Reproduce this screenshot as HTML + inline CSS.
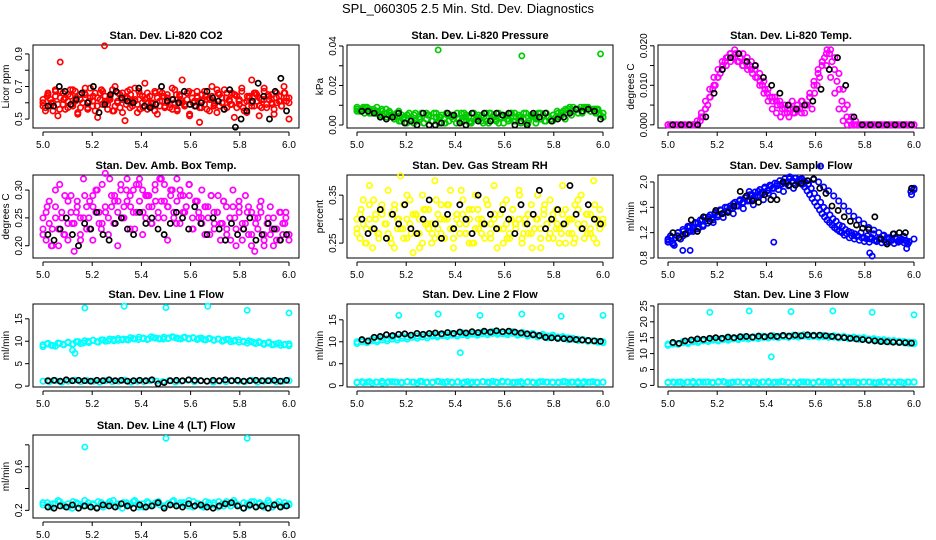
<!DOCTYPE html>
<html><head><meta charset="utf-8"><style>
body{margin:0;background:#fff;}
svg{display:block;font-family:"Liberation Sans",sans-serif;}
</style></head><body>
<svg id="chart" width="936" height="540" viewBox="0 0 936 540" xmlns="http://www.w3.org/2000/svg">
<rect width="936" height="540" fill="#fff"/>
<text x="468" y="13" font-size="13" text-anchor="middle">SPL_060305  2.5 Min. Std. Dev. Diagnostics</text>
</svg>
<script>
// ---------- data ----------
const xTicks = [5.0, 5.2, 5.4, 5.6, 5.8, 6.0];
const xTickLabels = ["5.0", "5.2", "5.4", "5.6", "5.8", "6.0"];

const co2Red = [0.62,0.55,0.66,0.58,0.60,0.64,0.52,0.67,0.59,0.63,0.57,0.68,0.68,0.61,0.54,0.65,0.60,0.69,0.56,0.63,0.58,0.66,0.51,0.62,0.67,0.61,0.59,0.64,0.55,0.70,0.61,0.57,0.66,0.49,0.63,0.68,0.58,0.62,0.54,0.65,0.60,0.72,0.56,0.64,0.59,0.67,0.53,0.61,0.66,0.58,0.63,0.57,0.69,0.60,0.55,0.65,0.74,0.59,0.62,0.52,0.66,0.58,0.64,0.48,0.61,0.67,0.56,0.63,0.70,0.59,0.54,0.65,0.60,0.68,0.57,0.62,0.66,0.51,0.64,0.59,0.67,0.55,0.61,0.63,0.74,0.58,0.65,0.52,0.62,0.69,0.57,0.64,0.60,0.53,0.66,0.61,0.58,0.70,0.63,0.50];
const co2Red2 = [0.58,0.64,0.60,0.67,0.56,0.62,0.65,0.59,0.63,0.57,0.66,0.61,0.64,0.58,0.68,0.60,0.63,0.55,0.66,0.62,0.59,0.65,0.61,0.67,0.57,0.63,0.60,0.66,0.58,0.64,0.61,0.56,0.65,0.62,0.59,0.67,0.60,0.63,0.57,0.64,0.62,0.58,0.66,0.60,0.63,0.59,0.65,0.61,0.57,0.64,0.60,0.66,0.58,0.62,0.65,0.59,0.63,0.61,0.66,0.60];
const co2Red3 = [0.60,0.57,0.65,0.62,0.55,0.68,0.59,0.63,0.66,0.56,0.61,0.64,0.58,0.67,0.53,0.62,0.60,0.65,0.57,0.69,0.61,0.55,0.63,0.66,0.59,0.64,0.56,0.62,0.68,0.58,0.60,0.65,0.54,0.63,0.67,0.57,0.61,0.69,0.59,0.56,0.64,0.62,0.66,0.58,0.60,0.55,0.63,0.67,0.61,0.57,0.65,0.59,0.62,0.68,0.56,0.64,0.60,0.58,0.66,0.53,0.63,0.61,0.67,0.57,0.65,0.59,0.62,0.55,0.64,0.60,0.68,0.58,0.63,0.56,0.66,0.61,0.59,0.65,0.57,0.62,0.69,0.60,0.54,0.64,0.58,0.66,0.61,0.63,0.57,0.67,0.59,0.62,0.65,0.56,0.60,0.64,0.58,0.66,0.61,0.63];
const co2Black = [0.58,0.58,0.70,0.67,0.59,0.62,0.66,0.60,0.70,0.54,0.59,0.65,0.67,0.63,0.61,0.60,0.69,0.58,0.57,0.59,0.70,0.61,0.62,0.60,0.67,0.59,0.58,0.60,0.67,0.63,0.61,0.56,0.68,0.45,0.50,0.55,0.61,0.72,0.64,0.50,0.67,0.75,0.55];
const co2OutX = [5.07, 5.25];
const co2OutY = [0.85, 0.95];

const presGreen = [0.008,0.007,0.009,0.006,0.008,0.007,0.005,0.008,0.006,0.004,0.007,0.003,0.005,0.002,0.006,0.003,0.001,0.005,0.002,0.006,0.004,0.001,0.005,0.003,0.006,0.002,0.004,0.001,0.006,0.003,0.005,0.002,0.006,0.004,0.001,0.005,0.003,0.006,0.002,0.004,0.006,0.001,0.005,0.003,0.006,0.002,0.004,0.005,0.007,0.006,0.008,0.009,0.007,0.008,0.006,0.009,0.007,0.008,0.006,0.004];
const presGreen2 = [0.007,0.009,0.008,0.006,0.007,0.005,0.004,0.002,0.005,0.001,0.003,0.006,0.002,0.004,0.001,0.005,0.003,0.006,0.002,0.004,0.001,0.006,0.003,0.005,0.002,0.006,0.004,0.001,0.005,0.003,0.006,0.002,0.004,0.003,0.005,0.008,0.009,0.007,0.008,0.006];
const presGreen3 = [0.009,0.007,0.008,0.006,0.009,0.008,0.006,0.007,0.009,0.005,0.008,0.006,0.004,0.007,0.005,0.003,0.006,0.002,0.005,0.004,0.001,0.006,0.003,0.005,0.002,0.004,0.006,0.001,0.003,0.005,0.002,0.006,0.004,0.001,0.005,0.003,0.006,0.002,0.004,0.005,0.001,0.003,0.006,0.002,0.005,0.004,0.001,0.006,0.003,0.005,0.002,0.004,0.006,0.001,0.003,0.005,0.002,0.006,0.004,0.001,0.005,0.003,0.006,0.002,0.004,0.005,0.001,0.003,0.006,0.002,0.005,0.004,0.001,0.006,0.003,0.005,0.002,0.004,0.003,0.005,0.004,0.006,0.005,0.007,0.006,0.008,0.007,0.009,0.008,0.006,0.009,0.007,0.008,0.009,0.007,0.008,0.006,0.008,0.005,0.004];
const presBlack = [0.007,0.007,0.006,0.004,0.003,0.004,0.006,0.001,0.002,0.000,0.006,0.000,0.000,0.001,0.006,0.005,0.001,0.000,0.006,0.002,0.006,0.002,0.006,0.005,0.006,0.000,0.002,0.000,0.006,0.004,0.006,0.002,0.003,0.004,0.006,0.008,0.007,0.008,0.007,0.003];
const presOutX = [5.33, 5.67, 5.99];
const presOutY = [0.038, 0.035, 0.036];

const tempMag = [0,0,0,0,0,0,0,0.001,0.003,0.006,0.009,0.012,0.014,0.016,0.017,0.018,0.019,0.018,0.018,0.017,0.016,0.015,0.013,0.011,0.009,0.007,0.006,0.005,0.004,0.005,0.004,0.005,0.006,0.005,0.007,0.010,0.013,0.016,0.018,0.019,0.017,0.013,0.009,0.005,0.002,0.001,0,0,0,0,0,0,0,0,0,0,0,0,0,0];
const tempMag2 = [0,0,0,0,0,0,0,0,0.002,0.004,0.007,0.010,0.012,0.014,0.015,0.016,0.017,0.016,0.015,0.015,0.014,0.012,0.010,0.008,0.006,0.004,0.003,0.002,0.003,0.002,0.003,0.004,0.003,0.005,0.008,0.011,0.014,0.016,0.015,0.012,0.008,0.004,0.001,0,0,0,0,0,0,0,0,0,0,0,0,0,0,0,0,0];
const tempMag3 = [0,0,0,0,0,0,0,0,0,0,0,0,0,0.001,0.002,0.004,0.005,0.007,0.009,0.010,0.012,0.013,0.015,0.016,0.017,0.018,0.017,0.018,0.016,0.017,0.015,0.016,0.014,0.015,0.013,0.014,0.012,0.011,0.010,0.009,0.008,0.007,0.006,0.007,0.005,0.006,0.004,0.005,0.003,0.004,0.006,0.003,0.005,0.004,0.006,0.003,0.005,0.007,0.004,0.008,0.010,0.012,0.015,0.017,0.019,0.018,0.016,0.014,0.011,0.009,0.006,0.004,0.002,0.001,0,0,0,0,0,0,0,0,0,0,0,0,0,0,0,0,0,0,0,0,0,0,0,0,0,0];
const tempBlack = [0,0,0,0,0.002,0.008,0.014,0.017,0.018,0.016,0.015,0.012,0.010,0.008,0.005,0.004,0.005,0.006,0.009,0.014,0.017,0.010,0.002,0,0,0,0,0,0,0];

const ambMag = [0.25,0.21,0.28,0.23,0.30,0.20,0.26,0.22,0.24,0.29,0.19,0.27,0.25,0.32,0.23,0.28,0.21,0.30,0.26,0.24,0.33,0.22,0.27,0.29,0.20,0.31,0.25,0.28,0.23,0.30,0.26,0.32,0.22,0.29,0.27,0.24,0.31,0.25,0.32,0.28,0.21,0.30,0.26,0.32,0.24,0.29,0.27,0.31,0.23,0.28,0.25,0.30,0.22,0.27,0.29,0.24,0.26,0.21,0.28,0.23,0.25,0.30,0.20,0.27,0.24,0.29,0.22,0.26,0.19,0.25,0.28,0.21,0.24,0.27,0.20,0.23,0.26,0.22,0.25,0.21];
const ambMag2 = [0.23,0.27,0.20,0.25,0.31,0.22,0.28,0.24,0.26,0.21,0.29,0.25,0.27,0.30,0.23,0.26,0.32,0.24,0.28,0.25,0.30,0.27,0.23,0.31,0.26,0.29,0.24,0.28,0.32,0.25,0.27,0.30,0.24,0.29,0.26,0.31,0.23,0.28,0.25,0.27,0.22,0.26,0.29,0.24,0.27,0.21,0.25,0.28,0.23,0.26,0.20,0.24,0.27,0.22,0.25,0.23,0.21,0.26,0.24,0.22];
const ambMag3 = [0.22,0.26,0.24,0.20,0.27,0.23,0.25,0.29,0.21,0.26,0.24,0.28,0.22,0.25,0.27,0.23,0.29,0.26,0.24,0.31,0.27,0.25,0.29,0.28,0.26,0.30,0.27,0.32,0.29,0.26,0.31,0.28,0.30,0.25,0.29,0.27,0.30,0.26,0.28,0.31,0.27,0.29,0.25,0.28,0.30,0.26,0.27,0.29,0.25,0.28,0.26,0.24,0.27,0.25,0.29,0.23,0.26,0.24,0.28,0.22,0.25,0.27,0.23,0.26,0.21,0.24,0.27,0.22,0.25,0.23,0.26,0.20,0.24,0.22,0.25,0.23,0.21,0.24,0.26,0.22];
const ambBlack = [0.22,0.21,0.23,0.25,0.22,0.20,0.24,0.23,0.26,0.22,0.21,0.24,0.25,0.23,0.22,0.26,0.24,0.25,0.23,0.22,0.24,0.26,0.25,0.23,0.27,0.24,0.22,0.25,0.23,0.21,0.24,0.22,0.23,0.25,0.21,0.22,0.24,0.23,0.21,0.22];

const rhYellow = [0.30,0.26,0.34,0.28,0.37,0.24,0.31,0.27,0.33,0.29,0.36,0.25,0.32,0.28,0.39,0.26,0.30,0.34,0.23,0.31,0.27,0.35,0.29,0.32,0.25,0.38,0.28,0.33,0.26,0.30,0.36,0.24,0.31,0.29,0.34,0.27,0.32,0.25,0.35,0.28,0.30,0.26,0.33,0.29,0.37,0.24,0.31,0.28,0.34,0.26,0.32,0.29,0.36,0.25,0.30,0.27,0.33,0.28,0.35,0.24,0.31,0.29,0.34,0.26,0.32,0.28,0.37,0.25,0.30,0.27,0.33,0.29,0.35,0.26,0.31,0.28,0.38,0.25,0.32,0.29];
const rhYellow2 = [0.28,0.32,0.25,0.30,0.34,0.27,0.31,0.29,0.26,0.33,0.30,0.28,0.35,0.27,0.31,0.24,0.32,0.29,0.27,0.34,0.30,0.26,0.33,0.28,0.31,0.36,0.27,0.30,0.25,0.32,0.29,0.34,0.27,0.31,0.28,0.33,0.26,0.30,0.29,0.35,0.27,0.31,0.24,0.30,0.28,0.33,0.26,0.31,0.29,0.27,0.32,0.30,0.25,0.34,0.28,0.31,0.27,0.33,0.29,0.30];
const rhYellow3 = [0.27,0.31,0.29,0.25,0.33,0.28,0.30,0.26,0.32,0.29,0.27,0.31,0.24,0.30,0.28,0.33,0.26,0.29,0.31,0.27,0.30,0.25,0.32,0.28,0.29,0.26,0.31,0.27,0.30,0.33,0.28,0.26,0.30,0.27,0.31,0.29,0.25,0.32,0.28,0.30,0.27,0.29,0.33,0.26,0.30,0.28,0.31,0.25,0.29,0.27,0.32,0.28,0.30,0.26,0.29,0.31,0.27,0.28,0.30,0.26,0.32,0.29,0.27,0.30,0.28,0.25,0.31,0.29,0.27,0.30,0.26,0.32,0.28,0.29,0.27,0.31,0.26,0.30,0.28,0.29];
const rhBlack = [0.30,0.27,0.28,0.32,0.26,0.31,0.29,0.33,0.28,0.27,0.30,0.34,0.29,0.26,0.31,0.28,0.33,0.30,0.27,0.35,0.29,0.31,0.28,0.32,0.30,0.27,0.33,0.29,0.31,0.36,0.28,0.30,0.32,0.29,0.37,0.31,0.28,0.33,0.30,0.29];

const flowBlue = [1.05,1.12,1.00,1.15,1.10,1.22,1.18,1.30,1.25,1.35,1.28,1.40,1.38,1.45,1.42,1.50,1.48,1.55,1.52,1.60,1.58,1.66,1.62,1.70,1.68,1.75,1.72,1.80,1.78,1.85,1.83,1.90,1.87,1.93,1.90,1.97,1.95,2.00,1.98,2.05,2.02,2.06,2.03,2.05,2.00,1.96,1.90,1.82,1.75,1.68,1.60,1.55,1.48,1.42,1.38,1.32,1.30,1.25,1.22,1.20,1.18,1.15,1.20,1.12,1.15,1.10,1.18,1.08,1.12,1.15,1.05,1.10,1.08,1.12,1.05,1.10,1.08,1.02,1.85,1.90];
const flowBlue2 = [1.10,1.02,1.20,1.15,1.28,1.22,1.35,1.30,1.42,1.36,1.48,1.44,1.55,1.50,1.62,1.58,1.70,1.64,1.76,1.72,1.82,1.78,1.88,1.85,1.94,1.90,1.98,2.02,1.97,2.04,2.00,1.92,1.86,1.78,1.70,1.62,1.54,1.46,1.40,1.34,1.28,1.24,1.20,1.16,1.12,1.18,1.08,1.14,1.06,1.10];
const flowBlue3 = [1.08,1.15,1.04,1.12,1.20,1.10,1.25,1.18,1.30,1.22,1.28,1.36,1.26,1.40,1.32,1.44,1.35,1.48,1.40,1.52,1.45,1.56,1.50,1.60,1.54,1.62,1.58,1.68,1.62,1.72,1.66,1.75,1.70,1.80,1.74,1.84,1.78,1.88,1.82,1.92,1.86,1.95,1.90,1.98,1.94,2.02,1.97,2.05,2.00,2.08,2.02,2.06,2.00,2.04,1.96,1.92,1.86,1.80,1.74,1.68,1.62,1.56,1.50,1.45,1.40,1.36,1.32,1.28,1.25,1.22,1.20,1.16,1.18,1.12,1.15,1.10,1.14,1.08,1.12,1.06,1.10,1.05,1.12,1.08,1.06,1.10,1.04,1.08,1.12,1.05,1.09,1.03,1.10,1.06,1.08,1.04,1.07,1.05,1.80,1.88];
const flowBlack = [1.20,1.12,1.18,1.40,1.22,1.45,1.38,1.55,1.50,1.52,1.62,1.85,1.78,1.70,1.68,1.80,1.72,1.72,2.00,1.95,1.95,1.98,2.02,2.05,1.90,1.82,1.62,1.55,1.45,1.38,1.32,1.27,1.25,1.45,1.10,1.02,1.18,1.20,1.20,1.90];
const flowOutX = [5.06, 5.09, 5.33, 5.43, 5.62, 5.82, 5.83, 5.97];
const flowOutY = [0.92, 0.92, 1.85, 1.05, 2.25, 0.88, 0.83, 0.95];

const l1Up = [9.2,9.5,9.0,9.6,9.3,9.8,9.4,9.9,9.6,10.0,10.2,9.8,10.3,10.1,10.4,10.2,10.5,10.3,10.6,10.4,10.7,10.5,10.8,10.6,10.5,10.7,10.9,10.6,10.8,10.5,10.7,10.6,10.4,10.6,10.3,10.5,10.2,10.4,10.0,10.3,9.9,10.1,9.7,9.9,9.5,9.8,9.3,9.6,9.2,9.4];
const l1Up2 = [8.8,9.4,9.1,8.9,9.5,9.2,9.7,9.3,9.9,9.5,10.1,9.7,10.2,9.9,10.3,10.0,10.5,10.1,10.6,10.3,10.4,10.8,10.5,10.9,10.6,10.4,11.0,10.7,10.5,10.9,10.6,11.0,10.7,10.5,10.9,10.6,10.8,10.4,10.7,10.3,10.6,10.2,10.5,10.0,10.4,9.9,10.2,9.8,10.0,9.6,9.9,9.5,9.7,9.3,9.6,9.2,9.4,9.1,9.3,9.0];
const l1Lo = [1.1,1.0,1.2,0.9,1.1,1.3,1.0,1.2,1.1,0.9,1.2,1.0,1.1,1.3,0.9,1.1,1.0,1.2,1.1,1.0,1.2,0.9,1.1,1.3,1.0,1.2,1.1,0.9,1.1,1.0,1.2,1.1,1.0,1.3,0.9,1.1,1.2,1.0,1.1,1.2];
const l1Black = [1.2,1.3,1.1,1.4,1.2,1.3,1.2,1.1,1.3,1.2,1.4,1.2,1.3,1.1,1.2,1.3,1.2,1.4,0.5,0.8,1.2,1.3,1.2,1.4,1.3,1.2,1.1,1.3,1.2,1.4,1.2,1.3,1.1,1.2,1.3,1.2,1.2,1.3,1.1,1.3];
const l1OutX = [5.12, 5.13, 5.17, 5.33, 5.50, 5.67, 5.83, 6.00];
const l1OutY = [8.0, 7.3, 17.4, 17.8, 17.5, 17.8, 16.9, 16.3];

const l2Up = [10.0,10.3,10.1,10.6,10.4,10.9,10.7,11.1,10.9,11.3,11.1,11.5,11.3,11.6,11.4,11.7,11.5,11.8,11.6,11.9,11.7,12.0,11.8,12.1,11.9,12.2,12.0,12.3,12.1,12.2,12.0,12.3,11.9,12.1,11.7,11.9,11.5,11.7,11.3,11.5,11.1,11.2,10.9,10.8,10.6,10.5,10.3,10.2,10.1,10.0];
const l2Up2 = [9.6,10.0,9.8,10.2,10.0,10.4,10.2,10.6,10.4,10.8,10.6,11.0,10.8,11.1,10.9,11.3,11.1,11.4,11.2,11.5,11.3,11.6,11.4,11.7,11.5,11.8,11.6,11.9,11.7,11.8,11.6,11.9,11.5,11.7,11.3,11.5,11.1,11.3,10.9,11.1,10.7,10.9,10.5,10.6,10.3,10.4,10.1,10.2,9.9,9.8];
const l2Lo = [0.8,0.7,0.9,0.8,0.6,0.9,0.8,0.7,0.9,0.8,1.0,0.7,0.8,0.9,0.7,0.8,0.9,0.8,0.6,0.8,0.9,0.7,0.8,1.0,0.8,0.7,0.9,0.8,0.7,0.9,0.8,0.8,0.7,0.9,0.8,0.6,0.9,0.8,0.7,0.8];
const l2Lo2 = [0.7,0.9,0.8,0.6,0.8,1.0,0.7,0.9,0.8,0.7,0.9,0.8,0.6,0.9,0.8,0.7,1.0,0.8,0.9,0.7,0.8,0.6,0.9,0.8,0.7,0.9,0.8,1.0,0.7,0.8,0.9,0.7,0.8,0.6,0.9,0.8,0.7,0.9,0.8,0.7,0.8,0.9,0.7,0.8,0.9,0.6,0.8,0.9,0.7,0.8];
const l2Black = [10.5,10.2,11.0,11.2,11.6,11.4,11.7,11.8,11.5,11.9,11.7,11.9,12.0,11.8,12.1,11.9,12.2,12.0,12.3,12.1,12.4,12.2,12.5,12.3,12.4,12.2,12.0,11.8,11.6,11.4,11.0,10.9,10.8,10.7,10.6,10.5,10.4,10.3,10.2,10.1];
const l2OutX = [5.17, 5.33, 5.42, 5.50, 5.67, 5.83, 6.00];
const l2OutY = [16.0, 16.3, 7.5, 16.0, 16.3, 15.8, 16.0];

const l3Up = [13.0,13.4,13.2,13.8,13.6,14.1,13.9,14.4,14.2,14.6,14.4,14.8,14.6,15.0,14.8,15.2,15.0,15.3,15.1,15.5,15.3,15.6,15.4,15.7,15.5,15.8,15.6,15.9,15.7,15.8,15.6,15.7,15.5,15.6,15.3,15.4,15.1,15.2,14.9,15.0,14.6,14.7,14.4,14.4,14.1,14.1,13.9,13.8,13.6,13.5];
const l3Up2 = [12.6,13.0,12.9,13.4,13.2,13.7,13.5,14.0,13.8,14.2,14.0,14.4,14.2,14.6,14.4,14.8,14.6,14.9,14.7,15.1,14.9,15.2,15.0,15.3,15.1,15.4,15.2,15.5,15.3,15.4,15.2,15.3,15.1,15.2,14.9,15.0,14.7,14.8,14.5,14.6,14.2,14.3,14.0,14.0,13.7,13.7,13.5,13.4,13.2,13.1];
const l3Lo = [1.0,0.9,1.1,1.0,0.8,1.1,1.0,0.9,1.2,1.0,0.9,1.1,1.0,0.8,1.0,1.1,0.9,1.0,1.2,1.0,0.9,1.1,1.0,0.8,1.0,1.1,0.9,1.0,1.1,1.0,0.9,1.1,1.0,0.8,1.0,1.1,0.9,1.0,1.1,1.0];
const l3Lo2 = [0.9,1.1,1.0,0.8,1.0,1.2,0.9,1.0,1.1,0.9,1.0,1.2,0.8,1.0,1.1,0.9,1.0,1.1,0.8,1.0,1.2,0.9,1.0,1.1,0.9,1.0,0.8,1.1,1.0,0.9,1.2,1.0,0.9,1.1,1.0,0.8,1.0,1.1,0.9,1.0,1.1,0.9,1.0,1.2,0.9,1.0,1.1,0.8,1.0,1.1];
const l3Black = [13.5,13.2,14.0,14.3,14.6,14.5,14.8,15.0,14.8,15.2,15.0,15.3,15.4,15.2,15.5,15.3,15.6,15.4,15.7,15.5,15.8,15.6,15.9,15.7,15.8,15.6,15.4,15.2,15.0,14.8,14.6,14.4,14.2,14.0,13.8,13.7,13.6,13.5,13.4,13.3];
const l3OutX = [5.17, 5.33, 5.42, 5.50, 5.67, 5.83, 6.00];
const l3OutY = [23.0, 23.4, 9.0, 23.2, 23.4, 23.0, 22.2];

const l4Cyan = [0.25,0.27,0.23,0.26,0.28,0.24,0.26,0.22,0.27,0.25,0.29,0.24,0.26,0.23,0.27,0.25,0.28,0.24,0.26,0.22,0.27,0.25,0.29,0.23,0.26,0.28,0.24,0.27,0.25,0.23,0.26,0.28,0.24,0.27,0.25,0.29,0.23,0.26,0.24,0.28,0.25,0.27,0.23,0.26,0.28,0.24,0.27,0.25,0.22,0.26,0.28,0.24,0.27,0.25,0.29,0.23,0.26,0.24,0.27,0.25];
const l4Cyan2 = [0.27,0.24,0.26,0.29,0.25,0.23,0.28,0.26,0.24,0.27,0.25,0.28,0.23,0.26,0.29,0.24,0.27,0.25,0.28,0.26,0.23,0.27,0.25,0.28,0.24,0.26,0.29,0.25,0.27,0.24,0.28,0.26,0.23,0.27,0.25,0.28,0.24,0.26,0.29,0.25,0.27,0.24,0.28,0.26,0.23,0.27,0.25,0.28,0.24,0.26];
const l4Black = [0.23,0.22,0.24,0.23,0.25,0.22,0.24,0.23,0.22,0.25,0.24,0.23,0.26,0.24,0.22,0.25,0.23,0.24,0.27,0.22,0.25,0.24,0.23,0.26,0.24,0.25,0.23,0.22,0.24,0.26,0.27,0.24,0.22,0.25,0.23,0.24,0.22,0.25,0.23,0.24];
const l4OutX = [5.17, 5.50, 5.83];
const l4OutY = [0.78, 0.86, 0.86];

// ---------- layout ----------
const NS = "http://www.w3.org/2000/svg";
const svg = document.getElementById("chart");
const colLeft = [33, 347, 658];
const rowTop = [45, 175, 304, 435];
const W = 266, H = 83;

function mk(tag, attrs, parent) {
  const e = document.createElementNS(NS, tag);
  for (const k in attrs) e.setAttribute(k, attrs[k]);
  parent.appendChild(e);
  return e;
}

const panels = [
  {name:"co2", title:"Stan. Dev. Li-820 CO2", ylab:"Licor ppm", col:0,row:0, ymin:0.445, ymax:0.955,
   ticks:[0.5,0.6,0.7,0.8,0.9], tlab:["0.5","","0.7","","0.9"],
   series:[[co2Red,"#ff0000"],[co2Red2,"#ff0000"],[co2Red3,"#ff0000"]], black:co2Black, outX:co2OutX, outY:co2OutY, outC:"#ff0000"},
  {name:"pressure", title:"Stan. Dev. Li-820 Pressure", ylab:"kPa", col:1,row:0, ymin:-0.0015, ymax:0.0405,
   ticks:[0,0.01,0.02,0.03,0.04], tlab:["0.00","","0.02","","0.04"],
   series:[[presGreen,"#00cc00"],[presGreen2,"#00cc00"],[presGreen3,"#00cc00"]], black:presBlack, outX:presOutX, outY:presOutY, outC:"#00cc00"},
  {name:"temp", title:"Stan. Dev. Li-820 Temp.", ylab:"degrees C", col:2,row:0, ymin:-0.0008, ymax:0.0202,
   ticks:[0,0.005,0.01,0.015,0.02], tlab:["0.000","","0.010","","0.020"],
   series:[[tempMag,"#ff00ff"],[tempMag2,"#ff00ff"],[tempMag3,"#ff00ff"]], black:tempBlack, outX:[], outY:[], outC:"#ff00ff"},
  {name:"amb-box-temp", title:"Stan. Dev. Amb. Box Temp.", ylab:"degrees C", col:0,row:1, ymin:0.178, ymax:0.327,
   ticks:[0.2,0.25,0.3], tlab:["0.20","0.25","0.30"],
   series:[[ambMag,"#ff00ff"],[ambMag2,"#ff00ff"],[ambMag3,"#ff00ff"]], black:ambBlack, outX:[], outY:[], outC:"#ff00ff"},
  {name:"gas-rh", title:"Stan. Dev. Gas Stream RH", ylab:"percent", col:1,row:1, ymin:0.219, ymax:0.392,
   ticks:[0.25,0.3,0.35], tlab:["0.25","","0.35"],
   series:[[rhYellow,"#ffff00"],[rhYellow2,"#ffff00"],[rhYellow3,"#ffff00"]], black:rhBlack, outX:[], outY:[], outC:"#ffff00"},
  {name:"sample-flow", title:"Stan. Dev. Sample Flow", ylab:"ml/min", col:2,row:1, ymin:0.8, ymax:2.11,
   ticks:[0.8,1.2,1.6,2.0], tlab:["0.8","1.2","1.6","2.0"],
   series:[[flowBlue,"#0000ff"],[flowBlue2,"#0000ff"],[flowBlue3,"#0000ff"]], black:flowBlack, outX:flowOutX, outY:flowOutY, outC:"#0000ff"},
  {name:"line1-flow", title:"Stan. Dev. Line 1 Flow", ylab:"ml/min", col:0,row:2, ymin:-0.2, ymax:18.3,
   ticks:[0,5,10,15], tlab:["0","5","10","15"],
   series:[[l1Up,"#00ffff"],[l1Up2,"#00ffff"],[l1Lo,"#00ffff"]], black:l1Black, outX:l1OutX, outY:l1OutY, outC:"#00ffff"},
  {name:"line2-flow", title:"Stan. Dev. Line 2 Flow", ylab:"ml/min", col:1,row:2, ymin:-0.3, ymax:18.6,
   ticks:[0,5,10,15], tlab:["0","5","10","15"],
   series:[[l2Up,"#00ffff"],[l2Up2,"#00ffff"],[l2Lo,"#00ffff"],[l2Lo2,"#00ffff"]], black:l2Black, outX:l2OutX, outY:l2OutY, outC:"#00ffff"},
  {name:"line3-flow", title:"Stan. Dev. Line 3 Flow", ylab:"ml/min", col:2,row:2, ymin:-0.5, ymax:25.6,
   ticks:[0,5,10,15,20,25], tlab:["0","5","10","15","20","25"],
   series:[[l3Up,"#00ffff"],[l3Up2,"#00ffff"],[l3Lo,"#00ffff"],[l3Lo2,"#00ffff"]], black:l3Black, outX:l3OutX, outY:l3OutY, outC:"#00ffff"},
  {name:"line4-flow", title:"Stan. Dev. Line 4 (LT) Flow", ylab:"ml/min", col:0,row:3, ymin:0.13, ymax:0.89,
   ticks:[0.2,0.4,0.6,0.8], tlab:["0.2","","0.6",""],
   series:[[l4Cyan,"#00ffff"],[l4Cyan2,"#00ffff"]], black:l4Black, outX:l4OutX, outY:l4OutY, outC:"#00ffff"}
];

panels.forEach(p => {
  const L = colLeft[p.col], T = rowTop[p.row];
  const g = mk("g", {}, svg);
  
  
  const xs = v => L + 10 + (v - 5.0) * (W - 20);
  const ys = v => T + H - (v - p.ymin) / (p.ymax - p.ymin) * H;

  const box = mk("rect", {x:L, y:T, width:W, height:H, fill:"none", stroke:"#000", "stroke-width":1}, g);
  
  

  const title = mk("text", {x:L + W/2, y:T - 6, "font-size":11, "font-weight":"bold", "text-anchor":"middle"}, g);
  title.textContent = p.title;
  
  

  const xa = mk("g", {}, g);
  
  
  mk("line", {x1:xs(xTicks[0]), x2:xs(xTicks[xTicks.length-1]), y1:T+H+4, y2:T+H+4, stroke:"#000"}, xa);
  xTicks.forEach((t, i) => {
    mk("line", {x1:xs(t), x2:xs(t), y1:T+H+4, y2:T+H+8, stroke:"#000"}, xa);
    const tl = mk("text", {x:xs(t), y:T+H+20, "font-size":10, "text-anchor":"middle"}, xa);
    tl.textContent = xTickLabels[i];
    
    
  });

  const ya = mk("g", {}, g);
  
  
  mk("line", {x1:L-4, x2:L-4, y1:ys(p.ticks[0]), y2:ys(p.ticks[p.ticks.length-1]), stroke:"#000"}, ya);
  p.ticks.forEach((t, i) => {
    const y = ys(t);
    mk("line", {x1:L-8, x2:L-4, y1:y, y2:y, stroke:"#000"}, ya);
    if (p.tlab[i]) {
      const tl = mk("text", {x:L-11, y:y, "font-size":10, "text-anchor":"middle", transform:`rotate(-90 ${L-11} ${y})`}, ya);
      tl.textContent = p.tlab[i];
      
      
    }
  });
  const yl = mk("text", {x:L-24, y:T+H/2, "font-size":10, "text-anchor":"middle", transform:`rotate(-90 ${L-24} ${T+H/2})`}, g);
  yl.textContent = p.ylab;
  
  

  const pts = mk("g", {fill:"none", "stroke-width":1.7}, g);
  
  
  p.series.forEach(([vals, color]) => {
    vals.forEach((v, i) => {
      const c = mk("circle", {cx:xs(5 + i/(vals.length-1)), cy:ys(v), r:2.7, stroke:color}, pts);
      
      
    });
  });
  p.outX.forEach((x, i) => {
    const c = mk("circle", {cx:xs(x), cy:ys(p.outY[i]), r:2.6, stroke:p.outC}, pts);
    
    
  });
  p.black.forEach((v, i) => {
    const c = mk("circle", {cx:xs(5.02 + 0.97*i/(p.black.length-1)), cy:ys(v), r:2.6, stroke:"#000"}, pts);
    
    
  });
});
</script>
</body></html>
